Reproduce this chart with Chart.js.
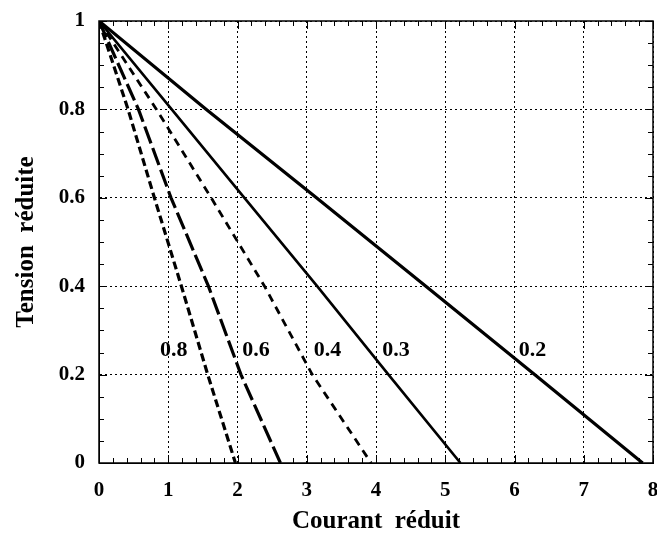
<!DOCTYPE html>
<html>
<head>
<meta charset="utf-8">
<script src="https://cdn.jsdelivr.net/npm/chart.js@4.4.1/dist/chart.umd.min.js"></script>
<style>
  html, body { margin: 0; padding: 0; background: #fff; }
</style>
</head>
<body>
<canvas id="myChart" width="657" height="537"></canvas>
<script>
// parameter value of each curve
var curveNames = ["0.2", "0.3", "0.4", "0.6", "0.8"];

// tension reduite levels where the curves were read
var yLevels = [1, 0.8, 0.6, 0.4, 0.2, 0];

// courant reduit at those levels, per curve
var x02 = [0, 1.55, 3.14, 4.72, 6.29, 7.85];
var x03 = [0, 1.05, 2.10, 3.15, 4.18, 5.22];
var x04 = [0, 0.83, 1.62, 2.39, 3.08, 3.93];
var x06 = [0, 0.57, 1.04, 1.58, 2.05, 2.62];
var x08 = [0, 0.42, 0.80, 1.19, 1.57, 1.97];

// where the curve names sit (data units, left edge of text)
var labelX = [6.06, 4.09, 3.1, 2.07, 0.88];
var labelY = [0.255, 0.255, 0.255, 0.255, 0.255];

var xTicks = [0, 1, 2, 3, 4, 5, 6, 7, 8];
var yTicks = [0, 0.2, 0.4, 0.6, 0.8, 1];

function pts(xs, ys) {
  var out = [];
  for (var i = 0; i < xs.length; i++) out.push({ x: xs[i], y: ys[i] });
  return out;
}

var serif = "'Liberation Serif', 'DejaVu Serif', serif";

// frame, inward ticks and the curve names
var decor = {
  id: "decor",
  afterDatasetsDraw: function(chart) {
    var c = chart.ctx, a = chart.chartArea;
    var xs = chart.scales.x, ys = chart.scales.y;
    c.save();
    c.strokeStyle = "#000";
    c.lineWidth = 1.5;
    c.setLineDash([]);
    c.strokeRect(a.left, a.top, a.right - a.left, a.bottom - a.top);
    c.lineWidth = 1;
    c.beginPath();
    for (var v = 0; v <= 40; v++) {
      var px = Math.round(xs.getPixelForValue(v / 5)) + 0.5;
      var len = (v % 5 == 0) ? 8 : 5;
      c.moveTo(px, a.bottom); c.lineTo(px, a.bottom - len);
      c.moveTo(px, a.top); c.lineTo(px, a.top + len);
    }
    for (var w = 0; w <= 20; w++) {
      var py = Math.round(ys.getPixelForValue(w / 20)) + 0.5;
      var l2 = (w % 4 == 0) ? 8 : 5;
      c.moveTo(a.left, py); c.lineTo(a.left + l2, py);
      c.moveTo(a.right, py); c.lineTo(a.right - l2, py);
    }
    c.stroke();

    c.fillStyle = "#000";
    c.font = "bold 22px " + serif;
    c.textAlign = "left";
    c.textBaseline = "middle";
    for (var i = 0; i < curveNames.length; i++) {
      c.fillText(curveNames[i], xs.getPixelForValue(labelX[i]), ys.getPixelForValue(labelY[i]));
    }
    c.restore();
  }
};

var ctx = document.getElementById("myChart");

var data = {
  datasets: [
    { label: curveNames[0], data: pts(x02, yLevels), borderColor: "#000", borderWidth: 3.2, borderDash: [] },
    { label: curveNames[1], data: pts(x03, yLevels), borderColor: "#000", borderWidth: 2.6, borderDash: [] },
    { label: curveNames[2], data: pts(x04, yLevels), borderColor: "#000", borderWidth: 2.8, borderDash: [8, 6] },
    { label: curveNames[3], data: pts(x06, yLevels), borderColor: "#000", borderWidth: 3.2, borderDash: [18, 5] },
    { label: curveNames[4], data: pts(x08, yLevels), borderColor: "#000", borderWidth: 3.2, borderDash: [8, 4] }
  ]
};

var tickFont = { family: serif, size: 21, weight: "bold" };
var titleFont = { family: serif, size: 25, weight: "bold" };

var options = {
  responsive: false,
  animation: false,
  layout: { padding: { top: 21, right: 4, left: 0, bottom: 0 } },
  elements: { point: { radius: 0 }, line: { tension: 0, fill: false } },
  plugins: { legend: { display: false }, tooltip: { enabled: false } },
  scales: {
    x: {
      type: "linear", min: 0, max: 8,
      afterBuildTicks: function(s) { s.ticks = xTicks.map(function(v) { return { value: v }; }); },
      afterFit: function(s) { s.height = 74; s.paddingLeft = 0; s.paddingRight = 0; },
      grid: { color: "#000", lineWidth: 1, drawTicks: false },
      border: { display: true, color: "#000", dash: [2, 3] },
      ticks: { color: "#000", padding: 15, maxRotation: 0, font: tickFont,
               callback: function(v) { return String(v); } },
      title: { display: true, text: "Courant  réduit", color: "#000", padding: { top: 2, bottom: 0 }, font: titleFont }
    },
    y: {
      type: "linear", min: 0, max: 1,
      afterBuildTicks: function(s) { s.ticks = yTicks.map(function(v) { return { value: v }; }); },
      afterFit: function(s) { s.width = 99; s.paddingTop = 0; s.paddingBottom = 0; },
      grid: { color: "#000", lineWidth: 1, drawTicks: false },
      border: { display: true, color: "#000", dash: [2, 3] },
      ticks: { color: "#000", padding: 14, font: tickFont,
               callback: function(v) { return String(v); } },
      title: { display: true, text: "Tension  réduite", color: "#000", padding: { top: 12, bottom: 4 }, font: titleFont }
    }
  }
};

var chart = new Chart(ctx, {
  type: "line",
  data: data,
  options: options,
  plugins: [decor]
});
</script>
</body>
</html>
